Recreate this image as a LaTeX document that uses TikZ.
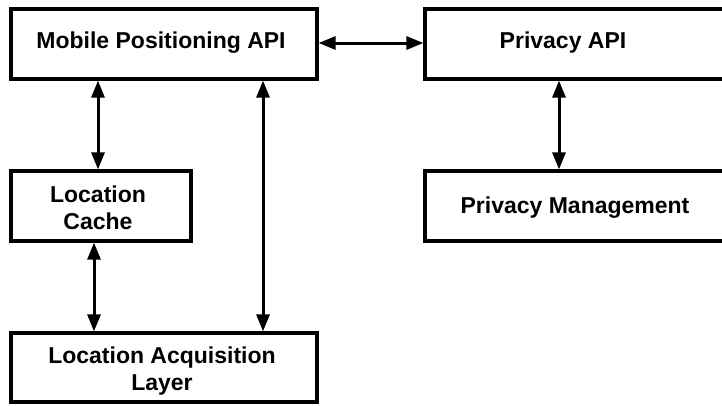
\documentclass[tikz,border=0pt]{standalone}
\usepackage{fontspec}
\setmainfont{Liberation Sans}
\usetikzlibrary{arrows.meta}
\begin{document}
\begin{tikzpicture}[x=1pt,y=1pt,
  box/.style={draw=black,line width=3.2pt,fill=white,rectangle,inner sep=0pt},
  lbl/.style={inner sep=0pt,align=center,font=\bfseries\fontsize{23}{26.5}\selectfont},
  conn/.style={line width=3pt,{Triangle[length=17pt,width=13pt]}-{Triangle[length=17pt,width=13pt]}}]
\useasboundingbox (0,0) rectangle (722,-405);
\clip (0,0) rectangle (722,-405);
\fill[white] (0,0) rectangle (722,-405);
% boxes
\node[box,minimum width=306pt,minimum height=70pt] (mp) at (164,-44) {};
\node[lbl] (mptxt) at (161,-43) {Mobile Positioning API};
\node[box,minimum width=340pt,minimum height=70pt] (pa) at (595,-44) {};
\node[lbl] (patxt) at (563,-43) {Privacy API};
\node[box,minimum width=180pt,minimum height=70pt] (lc) at (101,-206) {};
\node[lbl] (lctxt) at (98,-208) {Location\\Cache};
\node[box,minimum width=340pt,minimum height=70pt] (pm) at (595,-206) {};
\node[lbl] (pmtxt) at (575,-208) {Privacy Management};
\node[box,minimum width=306pt,minimum height=69pt] (lal) at (164,-367.5) {};
\node[lbl] (laltxt) at (162,-371) {Location Acquisition\\Layer};
% connector columns
\coordinate (c1) at (98,0);
\coordinate (c2) at (94,0);
\coordinate (c3) at (263,0);
\coordinate (c4) at (559,0);
\coordinate (r1) at (0,-43);
% connectors
\draw[conn] (mp.south -| c1) -- (lc.north -| c1);
\draw[conn] (lc.south -| c2) -- (lal.north -| c2);
\draw[conn] (mp.south -| c3) -- (lal.north -| c3);
\draw[conn] (pa.south -| c4) -- (pm.north -| c4);
\draw[conn] (mp.east |- r1) -- (pa.west |- r1);
\end{tikzpicture}
\end{document}
